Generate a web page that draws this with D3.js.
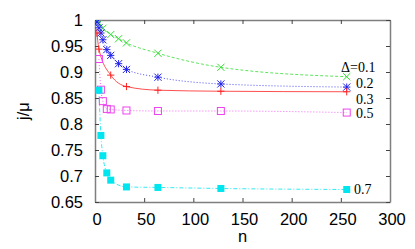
<!DOCTYPE html>
<html><head><meta charset="utf-8">
<script src="https://cdn.jsdelivr.net/npm/d3@7"></script>
<style>body{margin:0;background:#fff}svg{display:block}</style>
</head><body>
<script>
// ---- data ----
const xTicks = [0, 50, 100, 150, 200, 250, 300];
const yTicks = [0.65, 0.7, 0.75, 0.8, 0.85, 0.9, 0.95, 1];
const yTickLabels = ["0.65", "0.7", "0.75", "0.8", "0.85", "0.9", "0.95", "1"];

const nGreen = [2, 4, 8, 16, 24, 32, 64, 128, 256];
const vGreen = [0.999, 0.994, 0.984, 0.972, 0.964, 0.956, 0.936, 0.909, 0.891];

const nBlue = [2, 4, 6, 8, 12, 16, 24, 32, 64, 128, 256];
const vBlue = [0.996, 0.985, 0.975, 0.962, 0.943, 0.932, 0.916, 0.905, 0.890, 0.877, 0.871];

const nRed = [2, 4, 16, 32, 64, 128, 256];
const vRed = [0.975, 0.944, 0.894, 0.872, 0.865, 0.863, 0.862];

const nMag = [4, 6, 8, 12, 16, 32, 64, 128, 256];
const vMag = [0.925, 0.866, 0.844, 0.829, 0.828, 0.826, 0.825, 0.825, 0.822];

const nCyan = [4, 6, 8, 12, 16, 32, 64, 128, 256];
const vCyan = [0.865, 0.778, 0.739, 0.706, 0.692, 0.679, 0.678, 0.676, 0.674];

const seriesLabels = ["\u0394=0.1", "0.2", "0.3", "0.5", "0.7"];

// ---- layout ----
const W = 415, H = 249;
const m = {left: 95, right: 25, top: 20, bottom: 47};
const svg = d3.select("body").append("svg").attr("width", W).attr("height", H);
const x = d3.scaleLinear().domain([0, 300]).range([m.left, W - m.right]);
const y = d3.scaleLinear().domain([0.65, 1]).range([H - m.bottom, m.top]);

const axisCol = "#7f7f7f";
const sans = "'Liberation Sans', Arial, sans-serif";
const serif = "'Liberation Serif', 'Times New Roman', serif";

// axes with inward ticks
const gB = svg.append("g").attr("transform", `translate(0,${y(0.65)})`)
  .call(d3.axisBottom(x).tickValues(xTicks).tickSizeInner(-4).tickSizeOuter(0).tickPadding(11));
const gT = svg.append("g").attr("transform", `translate(0,${y(1)})`)
  .call(d3.axisTop(x).tickValues(xTicks).tickSizeInner(-4).tickSizeOuter(0).tickFormat(""));
const gL = svg.append("g").attr("transform", `translate(${x(0)},0)`)
  .call(d3.axisLeft(y).tickValues(yTicks).tickSizeInner(-4).tickSizeOuter(0).tickPadding(12)
    .tickFormat((d, i) => yTickLabels[i]));
const gR = svg.append("g").attr("transform", `translate(${x(300)},0)`)
  .call(d3.axisRight(y).tickValues(yTicks).tickSizeInner(-4).tickSizeOuter(0).tickFormat(""));
[gB, gT, gL, gR].forEach(g => {
  g.select(".domain").attr("stroke", axisCol).attr("stroke-width", 1.5);
  g.selectAll(".tick line").attr("stroke", "#444").attr("stroke-width", 1);
  g.selectAll("text").attr("fill", "#000").style("font-family", sans).style("font-size", "16.5px");
});
gB.selectAll("text").attr("dx", "1.5");
gL.selectAll("text").attr("dy", "0.35em");

// axis titles
svg.append("text").attr("x", x(150)).attr("y", 242).attr("text-anchor", "middle")
  .style("font-family", sans).style("font-size", "16.5px").text("n");
svg.append("text").attr("transform", `translate(29,${y(0.825)}) rotate(-90)`).attr("text-anchor", "middle")
  .style("font-family", sans).style("font-size", "16.5px").text("j/\u03bc");

// series
const series = [
  {n: nGreen, v: vGreen, col: "#33dd33", dash: "3,2", marker: "x", lw: 0.8},
  {n: nBlue, v: vBlue, col: "#2222ee", dash: "1,2", marker: "star", lw: 0.8},
  {n: nRed, v: vRed, col: "#ff2222", dash: null, marker: "plus", lw: 0.8},
  {n: nMag, v: vMag, col: "#ee44ee", dash: "1,2", marker: "osq", lw: 0.8},
  {n: nCyan, v: vCyan, col: "#00e5ee", dash: "4,2,1,2", marker: "fsq", lw: 0.8}
];
const line = d3.line().x(d => x(d[0])).y(d => y(d[1])).curve(d3.curveMonotoneX);
svg.append("clipPath").attr("id", "c").append("rect")
  .attr("x", x(0)).attr("y", y(1)).attr("width", x(300) - x(0)).attr("height", y(0.65) - y(1));

series.forEach(s => {
  const pts = s.n.map((n, i) => [n, s.v[i]]);
  svg.append("path").datum(pts).attr("d", line).attr("fill", "none")
    .attr("stroke", s.col).attr("stroke-width", s.lw).attr("stroke-dasharray", s.dash)
    .attr("clip-path", "url(#c)");
  const g = svg.append("g").attr("clip-path", "url(#c)");
  pts.forEach(p => {
    const cx = x(p[0]), cy = y(p[1]);
    const mk = g.append("g").attr("transform", `translate(${cx},${cy})`);
    const r = 3.6;
    if (s.marker === "x" || s.marker === "star") {
      mk.append("path").attr("d", `M${-r},${-r}L${r},${r}M${-r},${r}L${r},${-r}`).attr("stroke", s.col).attr("stroke-width", 1);
    }
    if (s.marker === "plus" || s.marker === "star") {
      mk.append("path").attr("d", `M${-r},0L${r},0M0,${-r}L0,${r}`).attr("stroke", s.col).attr("stroke-width", 1);
    }
    if (s.marker === "osq") {
      mk.append("rect").attr("x", -3.5).attr("y", -3.5).attr("width", 7).attr("height", 7)
        .attr("fill", "none").attr("stroke", s.col).attr("stroke-width", 1);
    }
    if (s.marker === "fsq") {
      mk.append("rect").attr("x", -3.5).attr("y", -3.5).attr("width", 7).attr("height", 7)
        .attr("fill", s.col);
    }
  });
});

// series labels
const labelPos = [
  {x: 341, y: 72}, {x: 356, y: 88}, {x: 356, y: 103.5}, {x: 356, y: 118}, {x: 354, y: 194}
];
seriesLabels.forEach((t, i) => {
  svg.append("text").attr("x", labelPos[i].x).attr("y", labelPos[i].y)
    .style("font-family", serif).style("font-size", "14px").text(t);
});
</script>
</body></html>
